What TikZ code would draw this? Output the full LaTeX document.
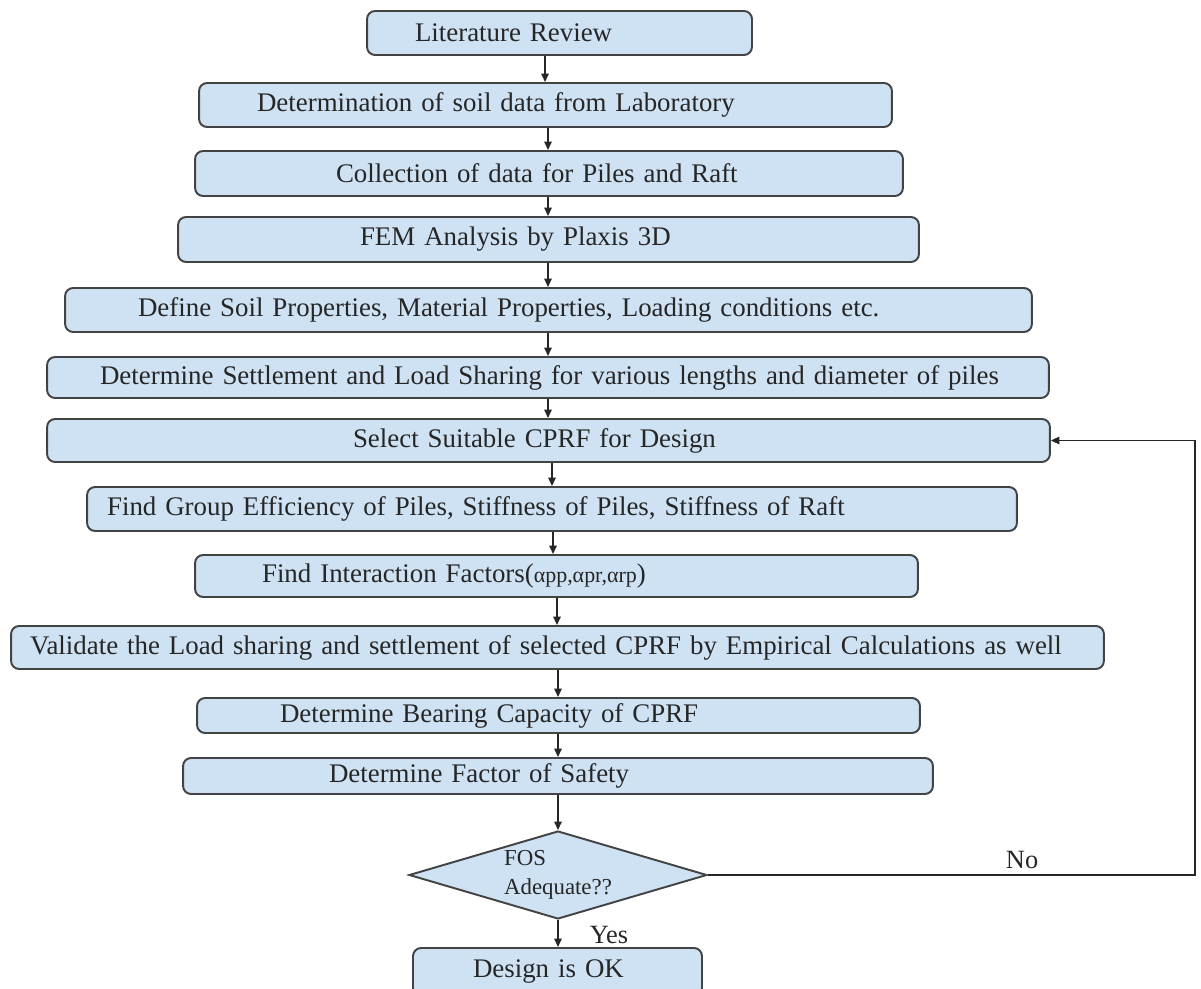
\documentclass[tikz,border=0pt]{standalone}
\usepackage{fontspec}
\setmainfont{Liberation Serif}
\usetikzlibrary{shapes.geometric, arrows.meta}

\definecolor{boxfill}{HTML}{CFE2F3}
\definecolor{boxline}{HTML}{434343}

\begin{document}
\begin{tikzpicture}[
    x=0.02cm, y=-0.02cm,
    stepbox/.style={draw=boxline, fill=boxfill, rounded corners=0.16cm, line width=1.1pt, inner xsep=0pt, inner ysep=0pt, align=left, font=\fontsize{15.3}{18}\selectfont, text=black!85},
    decision/.style={diamond, draw=boxline, fill=boxfill, line width=1.1pt, aspect=3.4, inner sep=0pt, minimum width=5.96cm, minimum height=1.76cm, align=left, font=\fontsize{13}{16.4}\selectfont, text=black!85},
    flow/.style={draw=black!85, line width=0.85pt, -{Triangle[length=1.7mm, width=1.5mm]}},
    lbl/.style={font=\fontsize{15}{18}\selectfont, text=black!85}
]
\useasboundingbox (0,0) rectangle (1201,989);

% steps
\node[stepbox, text width=7.70cm, minimum height=0.88cm] (lit) at (559.5,33) {\hspace*{0.96cm}Literature Review};
\node[stepbox, text width=13.86cm, minimum height=0.88cm] (soil) at (545.5,105) {\hspace*{1.16cm}Determination of soil data from Laboratory};
\node[stepbox, text width=14.16cm, minimum height=0.90cm] (coll) at (549,173.5) {\hspace*{2.82cm}Collection of data for Piles and Raft};
\node[stepbox, text width=14.82cm, minimum height=0.90cm] (fem) at (548.5,239.5) {\hspace*{3.64cm}FEM Analysis by Plaxis 3D};
\node[stepbox, text width=19.34cm, minimum height=0.88cm] (def) at (548.5,310) {\hspace*{1.46cm}Define Soil Properties, Material Properties, Loading conditions etc.};
\node[stepbox, text width=20.04cm, minimum height=0.82cm] (sett) at (548,377.5) {\hspace*{1.06cm}Determine Settlement and Load Sharing for various lengths and diameter of piles};
\node[stepbox, text width=20.06cm, minimum height=0.86cm] (sel) at (548.5,440.5) {\hspace*{6.12cm}Select Suitable CPRF for Design};
\node[stepbox, text width=18.60cm, minimum height=0.88cm] (grp) at (552,509) {\hspace*{0.40cm}Find Group Efficiency of Piles, Stiffness of Piles, Stiffness of Raft};
\node[stepbox, text width=14.46cm, minimum height=0.84cm] (inter) at (556.5,576) {\hspace*{1.34cm}Find Interaction Factors({\fontsize{12.5}{14}\selectfont αpp,αpr,αrp})};
\node[stepbox, text width=21.86cm, minimum height=0.86cm] (val) at (557.5,647.5) {\hspace*{0.38cm}Validate the Load sharing and settlement of selected CPRF by Empirical Calculations as well};
\node[stepbox, text width=14.46cm, minimum height=0.70cm] (bear) at (558.5,715.5) {\hspace*{1.66cm}Determine Bearing Capacity of CPRF};
\node[stepbox, text width=15.00cm, minimum height=0.72cm] (fos) at (558,776) {\hspace*{2.92cm}Determine Factor of Safety};
\node[decision] (dec) at (558,875) {FOS\\Adequate??};
\node[stepbox, text width=5.78cm, minimum height=0.96cm] (ok) at (557.5,972) {\hspace*{1.20cm}Design is OK};

% arrows down the column
\foreach \a/\b/\x in {lit/soil/545, soil/coll/548, coll/fem/548, fem/def/548, def/sett/548, sett/sel/548,
    sel/grp/552, grp/inter/553, inter/val/557, val/bear/558, bear/fos/558}
    \draw[flow] (\x,0 |- \a.south) -- (\x,0 |- \b.north);
\draw[flow] (fos.south -| dec.north) -- (dec.north);
\draw[flow] (dec.south) -- (dec.south |- ok.north);

% loop back
\coordinate (turn) at (1195,0);
\draw[flow] (dec.east) -- node[lbl, above, pos=0.645] {No} (dec.east -| turn) |- (sel.east);
\node[lbl] (yes) at (609,935) {Yes};
\end{tikzpicture}
\end{document}
